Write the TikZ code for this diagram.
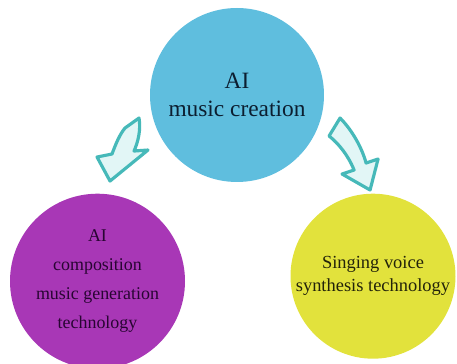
\documentclass[tikz,border=0pt]{standalone}
\usepackage{fontspec}
\setmainfont{Liberation Serif}
\usepackage{tikz}
\usetikzlibrary{positioning}
\definecolor{skyblue}{RGB}{95,190,222}
\definecolor{violetfill}{RGB}{168,55,182}
\definecolor{lemonfill}{RGB}{226,226,60}
\definecolor{arrowfill}{RGB}{226,246,246}
\definecolor{arrowedge}{RGB}{70,185,185}
\tikzset{
  bubble/.style={circle, inner sep=0pt, align=center, minimum size=#1},
  bigarrow/.style={fill=arrowfill, draw=arrowedge, line width=1.8pt, line join=round}
}

\begin{document}
\begin{tikzpicture}
        \useasboundingbox (0,0) rectangle (9.14,-7.28);
        % Draw the main circle
        \node[bubble=3.48cm, fill=skyblue, text={rgb,255:red,12;green,30;blue,48},
              font=\rmfamily\fontsize{13.3}{16}\selectfont] (creation) at (4.74,-1.9) {AI\\music creation};
        % Draw the two technology circles
        \node[bubble=3.5cm, fill=violetfill, text={rgb,255:red,40;green,5;blue,50},
              font=\rmfamily\fontsize{10.2}{16.4}\selectfont, below=0.22cm of creation, xshift=-2.79cm]
              (composition) {AI\\composition\\music generation\\technology};
        \node[bubble=3.3cm, fill=lemonfill, text={rgb,255:red,35;green,35;blue,10},
              font=\rmfamily\fontsize{10.5}{13}\selectfont, below=0.22cm of creation, xshift=2.72cm]
              (singing) {Singing voice\\synthesis technology};
        % Draw the curved block arrows
        \begin{scope}[x=0.02cm, y=-0.02cm]
            \filldraw[bigarrow] (139,118) .. controls (141,130) and (138,142) .. (134,151)
                -- (148,150) -- (110,181) -- (97,157) -- (112,154)
                .. controls (116,143) and (120,134) .. (125,128) -- cycle;
            \filldraw[bigarrow] (340,118) .. controls (352,130) and (362,148) .. (366,163)
                -- (378,159) -- (370,190) -- (342,174) -- (354,170)
                .. controls (348,155) and (338,143) .. (329,136) -- cycle;
        \end{scope}
\end{tikzpicture}
\end{document}
